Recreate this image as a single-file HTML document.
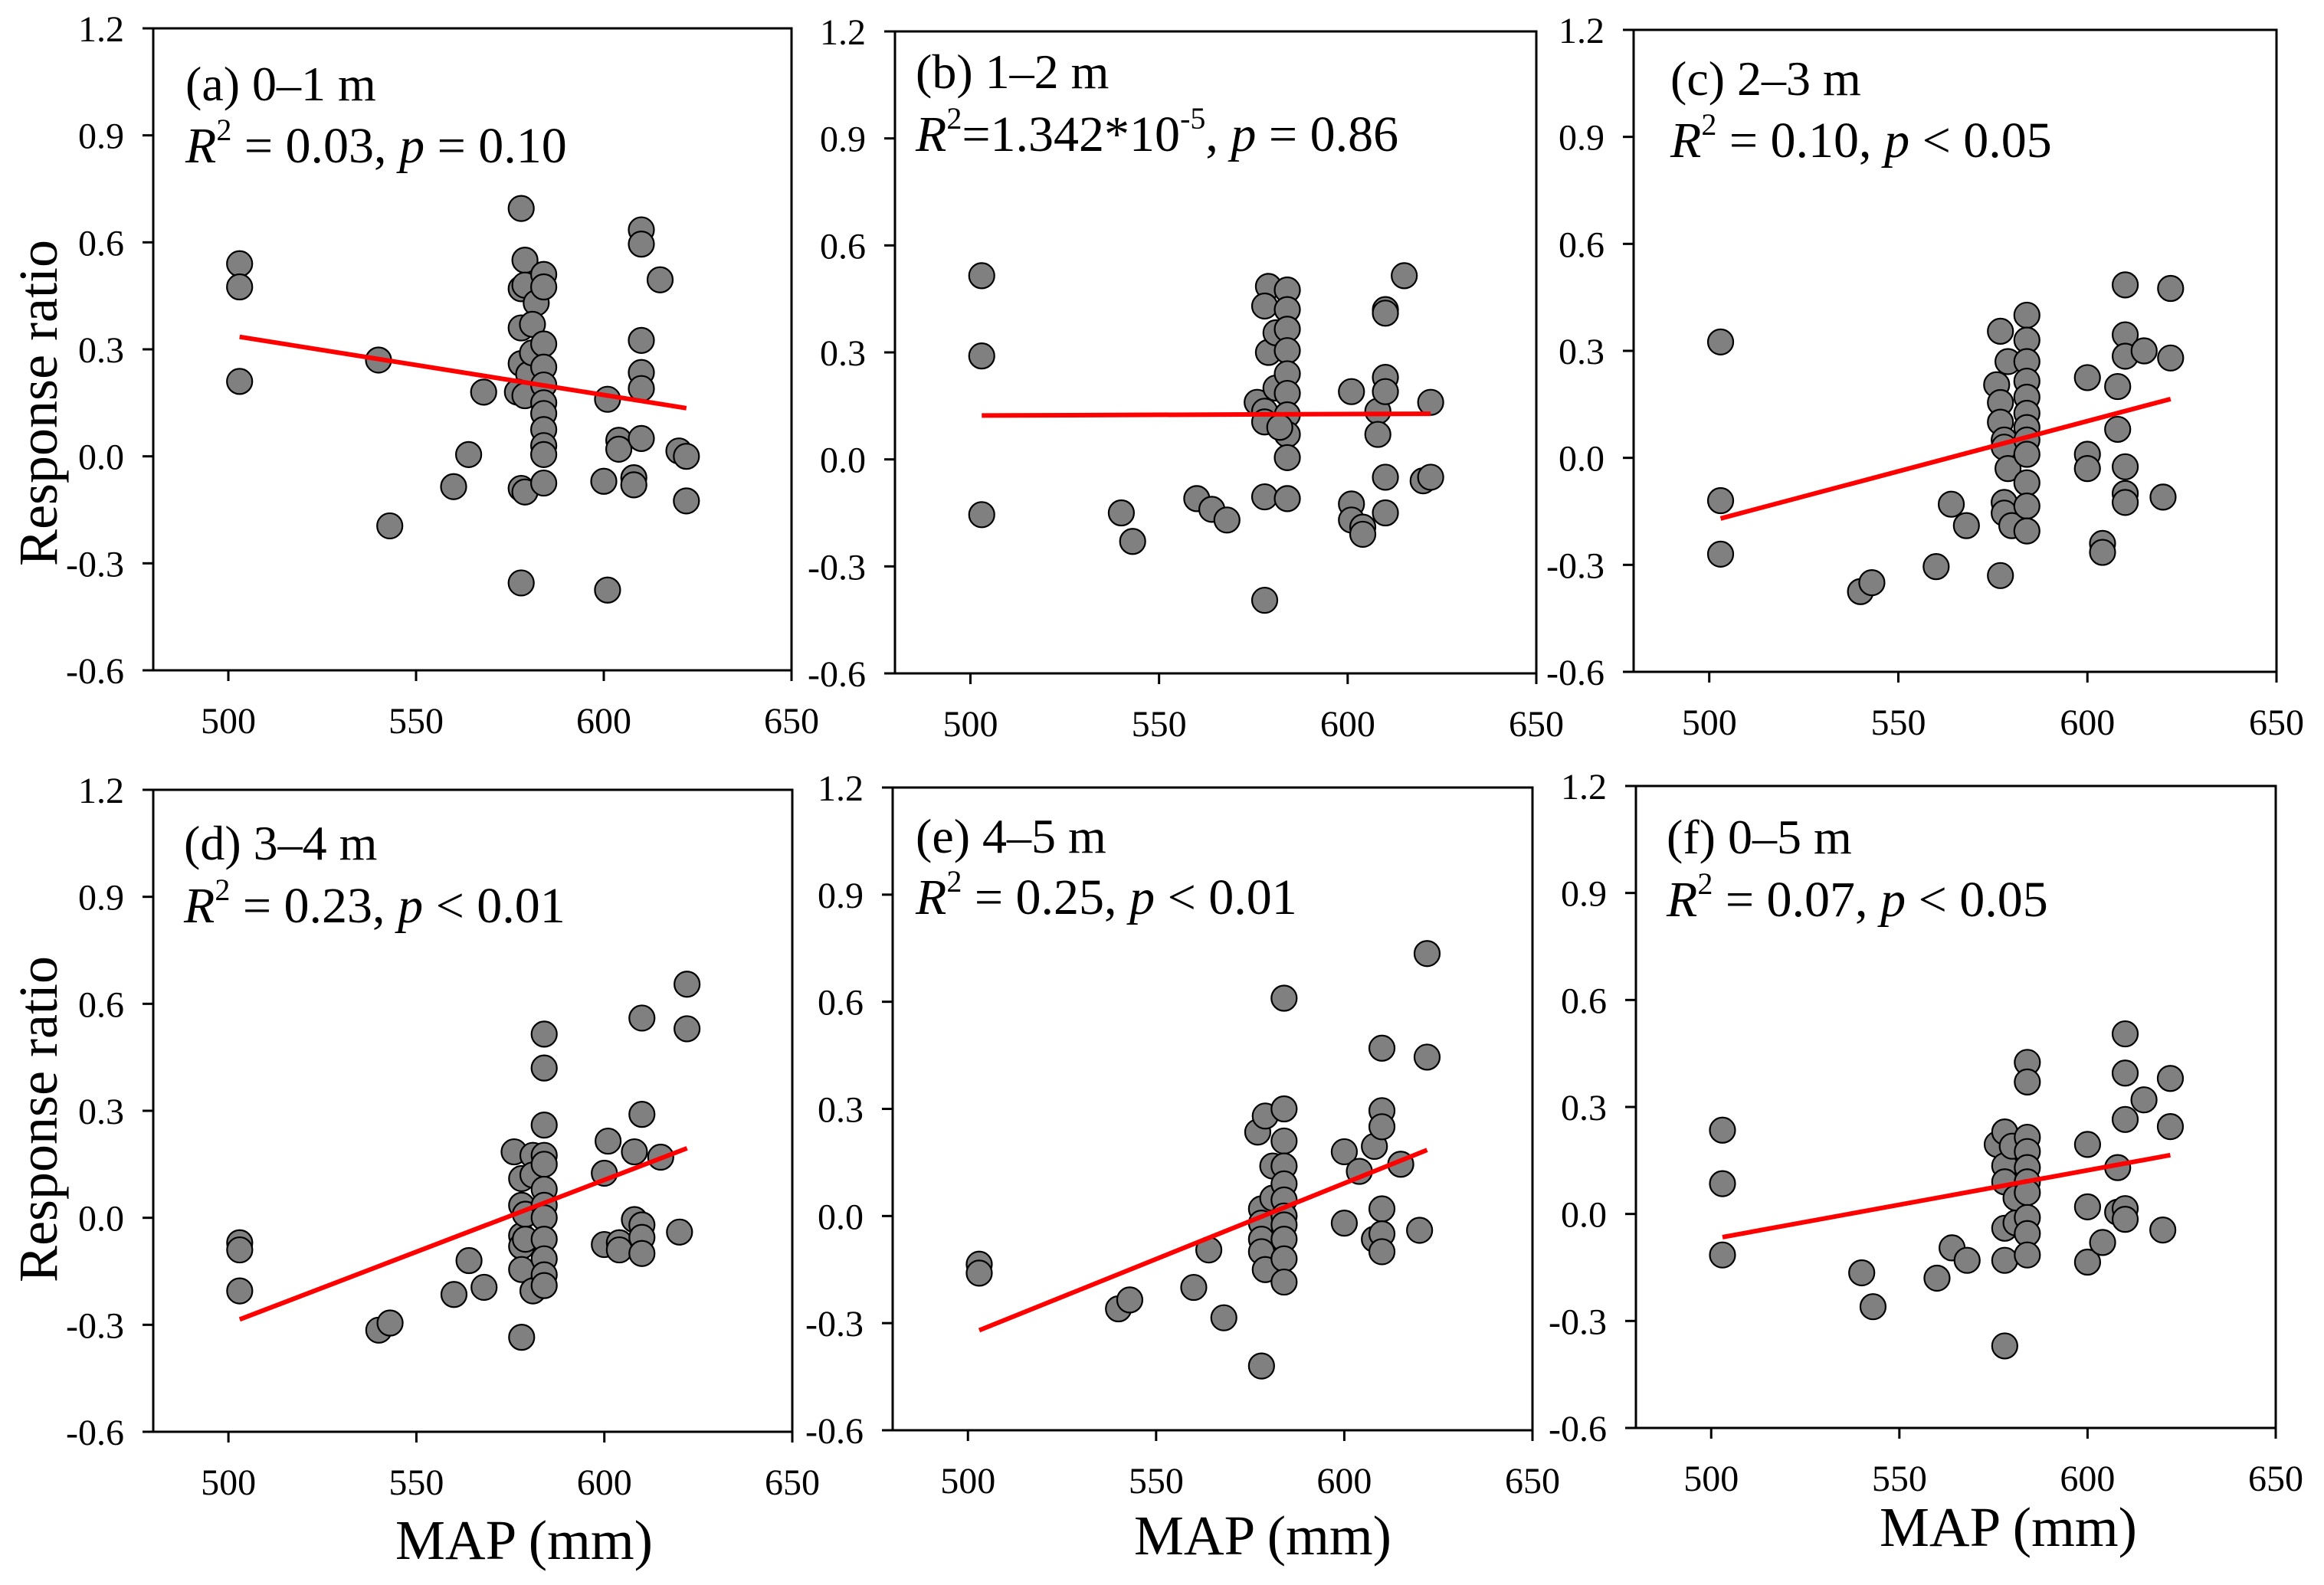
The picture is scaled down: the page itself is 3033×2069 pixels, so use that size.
<!DOCTYPE html>
<html><head><meta charset="utf-8">
<style>
html,body{margin:0;padding:0;background:#fff;}
svg{display:block;}
text{font-family:"Liberation Serif","Times New Roman",serif;fill:#000;}
</style></head>
<body>
<svg id="chart" width="3033" height="2069" viewBox="0 0 3033 2069" xmlns="http://www.w3.org/2000/svg"></svg>
<script>
const xTicks = [500, 550, 600, 650];
const yTicks = [-0.6, -0.3, 0.0, 0.3, 0.6, 0.9, 1.2];
const yTickLabels = ["-0.6", "-0.3", "0.0", "0.3", "0.6", "0.9", "1.2"];
const panelLabels = ["(a) 0–1 m", "(b) 1–2 m", "(c) 2–3 m", "(d) 3–4 m", "(e) 4–5 m", "(f) 0–5 m"];
const statTexts = [
  ["", " = 0.03, ", " = 0.10"],
  ["", "=1.342*10", ", ", " = 0.86"],
  ["", " = 0.10, ", " < 0.05"],
  ["", " = 0.23, ", " < 0.01"],
  ["", " = 0.25, ", " < 0.01"],
  ["", " = 0.07, ", " < 0.05"]
];
const fitA = [[503, 0.335], [622, 0.135]];
const fitB = [[503, 0.123], [622, 0.128]];
const fitC = [[503, -0.17], [622, 0.165]];
const fitD = [[503, -0.285], [622, 0.195]];
const fitE = [[503, -0.32], [622, 0.185]];
const fitF = [[503, -0.065], [622, 0.165]];
const ptsA = [[503,0.54],[503,0.475],[503,0.21],[540,0.27],[543,-0.195],[560,-0.085],[564,0.005],[568,0.18],[578,0.695],[579,0.55],[578,0.47],[579,0.48],[578,0.36],[582,0.43],[581,0.37],[578,0.26],[580,0.23],[577,0.18],[579,0.17],[581,0.29],[578,-0.09],[579,-0.10],[578,-0.355],[584,0.51],[584,0.475],[584,0.315],[584,0.25],[584,0.2],[584,0.15],[584,0.12],[584,0.075],[584,0.03],[584,0.005],[584,-0.075],[601,0.16],[600,-0.07],[601,-0.375],[604,0.045],[604,0.02],[608,-0.06],[608,-0.08],[610,0.635],[610,0.595],[610,0.325],[610,0.235],[610,0.19],[610,0.05],[615,0.495],[620,0.015],[622,0.0],[622,-0.125]];
const ptsB = [[503,0.515],[503,0.29],[503,-0.155],[540,-0.15],[543,-0.23],[560,-0.11],[564,-0.14],[568,-0.17],[576,0.16],[578,-0.395],[578,-0.105],[578,0.135],[578,0.105],[579,0.485],[578,0.43],[579,0.30],[581,0.355],[581,0.2],[584,0.475],[584,0.42],[584,0.365],[584,0.305],[584,0.24],[584,0.185],[584,0.125],[584,0.07],[584,0.005],[584,-0.11],[582,0.09],[601,0.19],[601,-0.125],[601,-0.17],[604,-0.19],[604,-0.21],[608,0.135],[608,0.07],[610,0.42],[610,0.41],[610,0.23],[610,0.19],[610,-0.05],[610,-0.15],[615,0.515],[620,-0.06],[622,-0.05],[622,0.16]];
const ptsC = [[503,0.325],[503,-0.12],[503,-0.27],[540,-0.375],[543,-0.35],[560,-0.305],[564,-0.13],[568,-0.19],[577,0.355],[577,-0.33],[576,0.205],[577,0.155],[577,0.10],[578,0.05],[578,0.03],[578,-0.125],[578,-0.155],[579,0.27],[579,-0.03],[580,-0.19],[584,0.40],[584,0.33],[584,0.27],[584,0.215],[584,0.17],[584,0.125],[584,0.085],[584,0.05],[584,0.01],[584,-0.07],[584,-0.135],[584,-0.205],[600,0.225],[600,0.01],[600,-0.03],[604,-0.24],[604,-0.265],[608,0.2],[608,0.08],[610,0.485],[610,0.345],[610,0.285],[610,-0.025],[610,-0.1],[610,-0.125],[615,0.3],[620,-0.11],[622,0.475],[622,0.28]];
const ptsD = [[503,-0.07],[503,-0.09],[503,-0.205],[540,-0.315],[543,-0.295],[560,-0.215],[564,-0.12],[568,-0.195],[576,0.185],[578,-0.335],[578,0.11],[578,0.035],[578,-0.05],[578,-0.08],[578,-0.145],[579,0.01],[579,-0.06],[581,0.175],[581,-0.205],[581,0.12],[584,0.515],[584,0.42],[584,0.26],[584,0.175],[584,0.15],[584,0.08],[584,0.035],[584,0.0],[584,-0.06],[584,-0.115],[584,-0.16],[584,-0.19],[601,0.215],[600,0.125],[600,-0.075],[604,-0.07],[604,-0.09],[608,0.185],[608,-0.005],[610,0.29],[610,0.56],[610,-0.02],[610,-0.055],[610,-0.1],[615,0.17],[620,-0.04],[622,0.655],[622,0.53]];
const ptsE = [[503,-0.135],[503,-0.16],[540,-0.26],[543,-0.235],[560,-0.2],[564,-0.095],[568,-0.285],[577,0.235],[578,-0.42],[579,0.28],[578,0.02],[578,-0.02],[578,-0.065],[578,-0.10],[579,-0.15],[581,0.14],[581,0.05],[584,0.61],[584,0.3],[584,0.21],[584,0.14],[584,0.09],[584,0.045],[584,0.0],[584,-0.025],[584,-0.065],[584,-0.12],[584,-0.185],[600,0.18],[600,-0.02],[604,0.125],[608,0.195],[608,-0.065],[610,0.47],[610,0.295],[610,0.25],[610,0.02],[610,-0.05],[610,-0.10],[615,0.145],[620,-0.04],[622,0.735],[622,0.445]];
const ptsF = [[503,0.235],[503,0.085],[503,-0.115],[540,-0.165],[543,-0.26],[560,-0.18],[564,-0.095],[568,-0.13],[576,0.195],[578,-0.37],[578,0.23],[578,0.135],[578,0.09],[578,-0.04],[578,-0.13],[580,0.19],[581,-0.025],[581,0.045],[584,0.425],[584,0.37],[584,0.215],[584,0.175],[584,0.13],[584,0.09],[584,0.06],[584,-0.01],[584,-0.055],[584,-0.115],[600,0.195],[600,0.02],[600,-0.135],[604,-0.08],[608,0.13],[608,0.005],[610,0.505],[610,0.395],[610,0.265],[610,0.015],[610,-0.015],[615,0.32],[620,-0.045],[622,0.38],[622,0.245]];

const allPts = [ptsA, ptsB, ptsC, ptsD, ptsE, ptsF];
const allFits = [fitA, fitB, fitC, fitD, fitE, fitF];
const boxes = [
  {L:200,R:1033,T:37,B:875, lab:[242,131], st:[242,212]},
  {L:1168,R:2005,T:41,B:879, lab:[1195,115], st:[1195,197]},
  {L:2132,R:2971,T:39,B:877, lab:[2180,124], st:[2180,205]},
  {L:200,R:1034,T:1031,B:1869, lab:[240,1122], st:[240,1204]},
  {L:1165,R:2000,T:1028,B:1867, lab:[1195,1113], st:[1195,1193]},
  {L:2135,R:2970,T:1026,B:1864, lab:[2175,1114], st:[2175,1196]}
];
const names = ["a","b","c","d","e","f"];
const NS = "http://www.w3.org/2000/svg";
const svg = document.getElementById("chart");
function mk(tag, attrs, parent){
  const e = document.createElementNS(NS, tag);
  for (const k in attrs) e.setAttribute(k, attrs[k]);
  (parent||svg).appendChild(e);
  return e;
}
boxes.forEach((b, i) => {
  const g = mk("g", {});
  
  
  const xs = v => b.L + (v - 480) / 170 * (b.R - b.L);
  const ys = v => b.B - (v + 0.6) / 1.8 * (b.B - b.T);
  const frame = mk("rect", {x:b.L, y:b.T, width:b.R-b.L, height:b.B-b.T, fill:"none", stroke:"#000", "stroke-width":3}, g);
  
  
  yTicks.forEach((t, k) => {
    const y = ys(t);
    const tk = mk("line", {x1:b.L-14, x2:b.L, y1:y, y2:y, stroke:"#000", "stroke-width":3}, g);
    
    
    const tl = mk("text", {x:b.L-38, y:y+17, "text-anchor":"end", "font-size":48}, g);
    tl.textContent = yTickLabels[k];
    
    
  });
  xTicks.forEach(t => {
    const x = xs(t);
    const tk = mk("line", {x1:x, x2:x, y1:b.B, y2:b.B+14, stroke:"#000", "stroke-width":3}, g);
    
    
    const tl = mk("text", {x:x, y:b.B+82, "text-anchor":"middle", "font-size":48}, g);
    tl.textContent = String(t);
    
    
  });
  allPts[i].forEach(p => {
    const c = mk("circle", {cx:xs(p[0]), cy:ys(p[1]), r:16.5, fill:"#808080", stroke:"#000", "stroke-width":2.2}, g);
    
    
  });
  const f = allFits[i];
  const ln = mk("line", {x1:xs(f[0][0]), y1:ys(f[0][1]), x2:xs(f[1][0]), y2:ys(f[1][1]), stroke:"#ff0000", "stroke-width":6}, g);
  
  
  const lab = mk("text", {x:b.lab[0], y:b.lab[1], "font-size":64}, g);
  lab.textContent = panelLabels[i];
  
  
  const st = mk("text", {x:b.st[0], y:b.st[1], "font-size":66}, g);
  
  
  const s = statTexts[i];
  const add = (txt, attrs) => { const t = mk("tspan", attrs||{}, st); t.textContent = txt; return t; };
  add("R", {"font-style":"italic"});
  add("2", {"font-size":40, dy:-29});
  if (i === 1) {
    add(s[1], {dy:29});
    add("-5", {"font-size":40, dy:-29});
    add(s[2], {dy:29});
    add("p", {"font-style":"italic"});
    add(s[3]);
  } else {
    add(s[1], {dy:29});
    add("p", {"font-style":"italic"});
    add(s[2]);
  }
});
const yTitles = [[50, 502], [50, 1437]];
yTitles.forEach(p => {
  const t = mk("text", {x:p[0], y:p[1], "text-anchor":"middle", "font-size":72, transform:"rotate(-90 "+(p[0]+24)+" "+p[1]+")"});
  t.textContent = "Response ratio";
  
  
});
const xTitles = [[684, 2035], [1648, 2029], [2621, 2018]];
xTitles.forEach(p => {
  const t = mk("text", {x:p[0], y:p[1], "text-anchor":"middle", "font-size":73});
  t.textContent = "MAP (mm)";
  
  
});
</script>
</body></html>
